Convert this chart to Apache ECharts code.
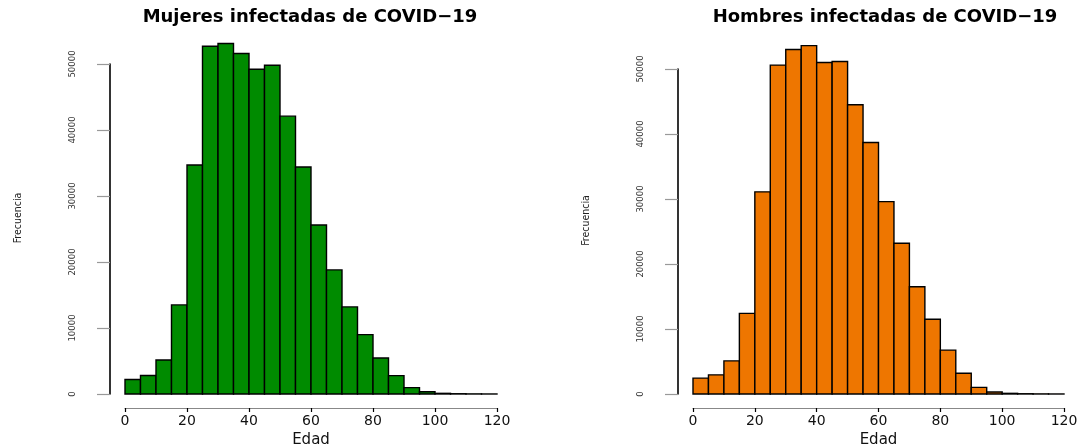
<!DOCTYPE html>
<html>
<head>
<meta charset="utf-8">
<script src="https://cdn.jsdelivr.net/npm/echarts@6/dist/echarts.min.js"></script>
<style>
html,body{margin:0;padding:0;background:#fff;}
#chart{width:1088px;height:447px;}
</style>
</head>
<body>
<div id="chart"></div>
<script>
// Bin edges (Edad)
const binEdges = [0,5,10,15,20,25,30,35,40,45,50,55,60,65,70,75,80,85,90,95,100,105,110,115,120];
// Frequencies per bin
const mujeres = [2200,2800,5150,13500,34700,52700,53100,51600,49200,49800,42100,34400,25600,18800,13200,9000,5450,2780,960,330,100,40,15,5];
const hombres = [2450,2950,5100,12400,31100,50600,53000,53600,51000,51150,44500,38700,29600,23200,16500,11500,6750,3200,1020,300,100,40,15,5];
// Tick values
const xTicks = [0,20,40,60,80,100,120];
const yTicks = [0,10000,20000,30000,40000,50000];
const titles = ['Mujeres infectadas de COVID\u221219', 'Hombres infectadas de COVID\u221219'];
const colors = ['#008B00', '#EE7600'];

function toBins(vals){
  return vals.map((v,i)=>[binEdges[i], binEdges[i+1], v]);
}

function makeRender(color){
  return function(params, api){
    const x0 = api.value(0), x1 = api.value(1), y = api.value(2);
    const p0 = api.coord([x0, y]);
    const p1 = api.coord([x1, 0]);
    return {
      type:'rect',
      shape:{x:p0[0], y:p0[1], width:p1[0]-p0[0], height:p1[1]-p0[1]},
      style:{fill:color, stroke:'#000', lineWidth:1.4}
    };
  };
}

const grids = [
  {left:125, right:591, top:64, bottom:53, outerBoundsMode:'none', containLabel:false},
  {left:693, right:24, top:69, bottom:53, outerBoundsMode:'none', containLabel:false}
];

const narrowFont = "'Liberation Sans Narrow','DejaVu Sans Condensed','Liberation Sans'";

const xAxisBase = (gi)=>({
  type:'value', gridIndex:gi, min:xTicks[0], max:xTicks[xTicks.length-1], interval:xTicks[1]-xTicks[0],
  offset:14,
  splitLine:{show:false},
  axisLine:{show:true, onZero:false, lineStyle:{color:'#888', width:1.2}},
  axisTick:{show:true, length:4, lineStyle:{color:'#000', width:1.2}},
  axisLabel:{color:'#111', fontFamily:'DejaVu Sans', fontSize:14, margin:6},
  name:'Edad', nameLocation:'middle', nameGap:21,
  nameTextStyle:{color:'#111', fontFamily:'DejaVu Sans', fontSize:15}
});

const yAxisBase = (gi)=>({
  type:'value', gridIndex:gi, min:yTicks[0], max:yTicks[yTicks.length-1], interval:yTicks[1]-yTicks[0],
  offset:15,
  splitLine:{show:false},
  axisLine:{show:true, onZero:false, lineStyle:{color:'#000', width:1.6}},
  axisTick:{show:true, length:13, lineStyle:{color:'#999', width:1.2}},
  axisLabel:{color:'#333', fontFamily:narrowFont, fontSize:9.5, rotate:90, margin:32,
             formatter:(v)=>String(v)},
  name:'Frecuencia', nameLocation:'middle', nameRotate:90, nameGap:86,
  nameTextStyle:{color:'#222', fontFamily:narrowFont, fontSize:10.5, padding:[0,0,0,22]}
});

const option = {
  animation:false,
  backgroundColor:'#fff',
  title:[
    {text:titles[0], left:305, top:3, textAlign:'center',
     textStyle:{fontFamily:'DejaVu Sans', fontWeight:'bold', fontSize:18, color:'#000'}},
    {text:titles[1], left:880, top:3, textAlign:'center',
     textStyle:{fontFamily:'DejaVu Sans', fontWeight:'bold', fontSize:18, color:'#000'}}
  ],
  grid:grids,
  xAxis:[xAxisBase(0), xAxisBase(1)],
  yAxis:[yAxisBase(0), yAxisBase(1)],
  series:[
    {type:'custom', xAxisIndex:0, yAxisIndex:0, clip:false, renderItem:makeRender(colors[0]),
     encode:{x:[0,1], y:2}, data:toBins(mujeres)},
    {type:'custom', xAxisIndex:1, yAxisIndex:1, clip:false, renderItem:makeRender(colors[1]),
     encode:{x:[0,1], y:2}, data:toBins(hombres)}
  ]
};

const chart = echarts.init(document.getElementById('chart'));
chart.setOption(option);
</script>
</body>
</html>
